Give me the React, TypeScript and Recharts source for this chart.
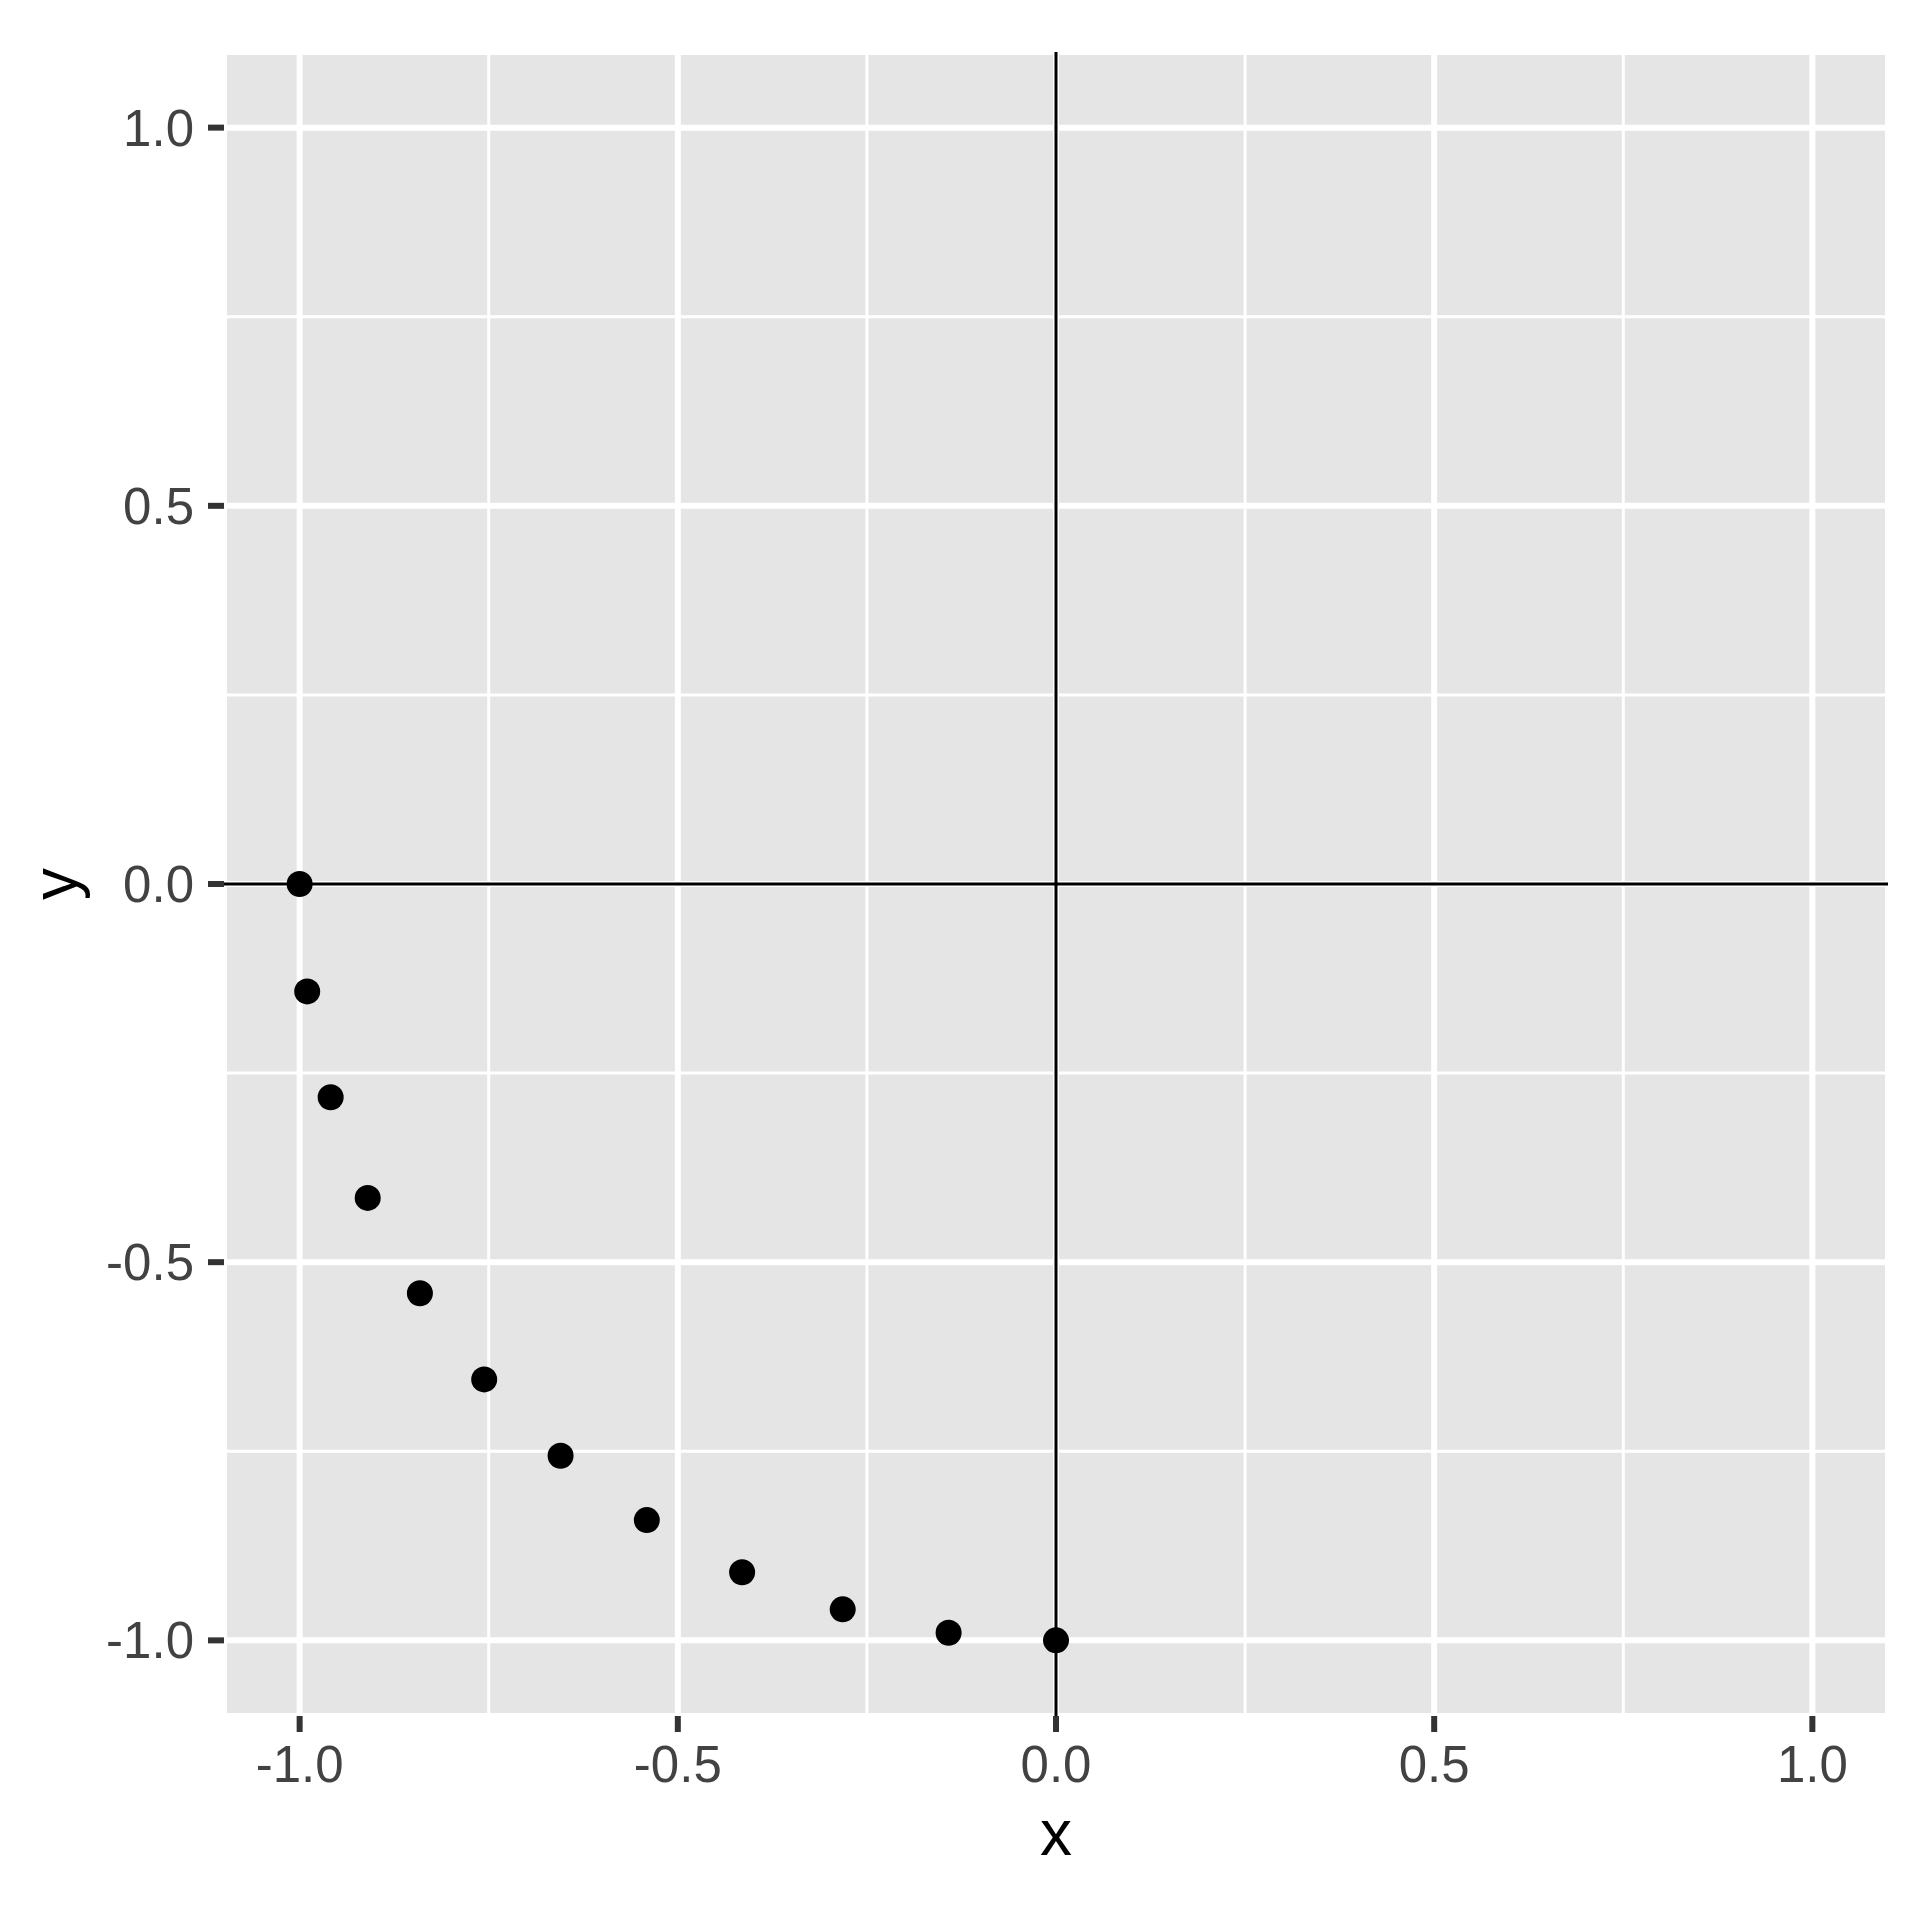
import { CartesianGrid, ReferenceLine, Scatter, ScatterChart, XAxis, YAxis } from "recharts";

// points (quarter arc from (-1, 0) down to (0, -1))
const xValues = [-1.0, -0.99, -0.959, -0.91, -0.841, -0.756, -0.655, -0.541, -0.415, -0.282, -0.142, 0.0];
const yValues = [0.0, -0.142, -0.282, -0.415, -0.541, -0.655, -0.756, -0.841, -0.91, -0.959, -0.99, -1.0];

const majorTicks = [-1, -0.5, 0, 0.5, 1];
const minorTicks = [-0.75, -0.25, 0.25, 0.75];
const axisDomain = [-1.1, 1.1];

const points = xValues.map((x, i) => ({ x, y: yValues[i] }));

const tickStyle = { fill: "#424242", fontSize: 51 };
const tickLineStyle = { stroke: "#333333", strokeWidth: 6 };

const dot = (props: any) => <circle cx={props.cx} cy={props.cy} r={13} fill="#000000" />;

const yTitle = (props: any) => {
    const vb = props.viewBox;
    const cy = vb.y + vb.height / 2;
    return (
        <text x={77} y={cy} textAnchor="middle" fontSize={64} fill="#000000" transform={`rotate(-90, 77, ${cy})`}>
            y
        </text>
    );
};

export default function App() {
    return (
        <div style={{ position: "absolute", left: 0, top: 0, width: 1920, height: 1920, background: "#ffffff" }}>
            <ScatterChart
                width={1920}
                height={1920}
                margin={{ top: 52, right: 32, bottom: 0, left: 0 }}
                style={{ fontFamily: "'Liberation Sans', Arial, sans-serif" }}
            >
                <CartesianGrid
                    fill="#E5E5E5"
                    fillOpacity={1}
                    stroke="#FFFFFF"
                    strokeWidth={6}
                    strokeDasharray=""
                />
                {minorTicks.map(v => (
                    <ReferenceLine key={`mx${v}`} x={v} stroke="#FFFFFF" strokeWidth={3} />
                ))}
                {minorTicks.map(v => (
                    <ReferenceLine key={`my${v}`} y={v} stroke="#FFFFFF" strokeWidth={3} />
                ))}
                <XAxis
                    type="number"
                    dataKey="x"
                    domain={axisDomain}
                    ticks={majorTicks}
                    allowDataOverflow
                    height={204}
                    axisLine={false}
                    tickLine={tickLineStyle}
                    tickSize={16}
                    tickMargin={14}
                    tick={tickStyle}
                    tickFormatter={(v: number) => v.toFixed(1)}
                    label={{ value: "x", position: "insideBottom", offset: 65, fill: "#000000", fontSize: 64 }}
                />
                <YAxis
                    type="number"
                    dataKey="y"
                    domain={axisDomain}
                    ticks={majorTicks}
                    allowDataOverflow
                    width={224}
                    axisLine={false}
                    tickLine={tickLineStyle}
                    tickSize={16}
                    tickMargin={14}
                    tick={tickStyle}
                    tickFormatter={(v: number) => v.toFixed(1)}
                    label={{ content: yTitle }}
                />
                <ReferenceLine x={0} stroke="#000000" strokeWidth={3} />
                <ReferenceLine y={0} stroke="#000000" strokeWidth={3} />
                <Scatter data={points} shape={dot} isAnimationActive={false} />
            </ScatterChart>
        </div>
    );
}
